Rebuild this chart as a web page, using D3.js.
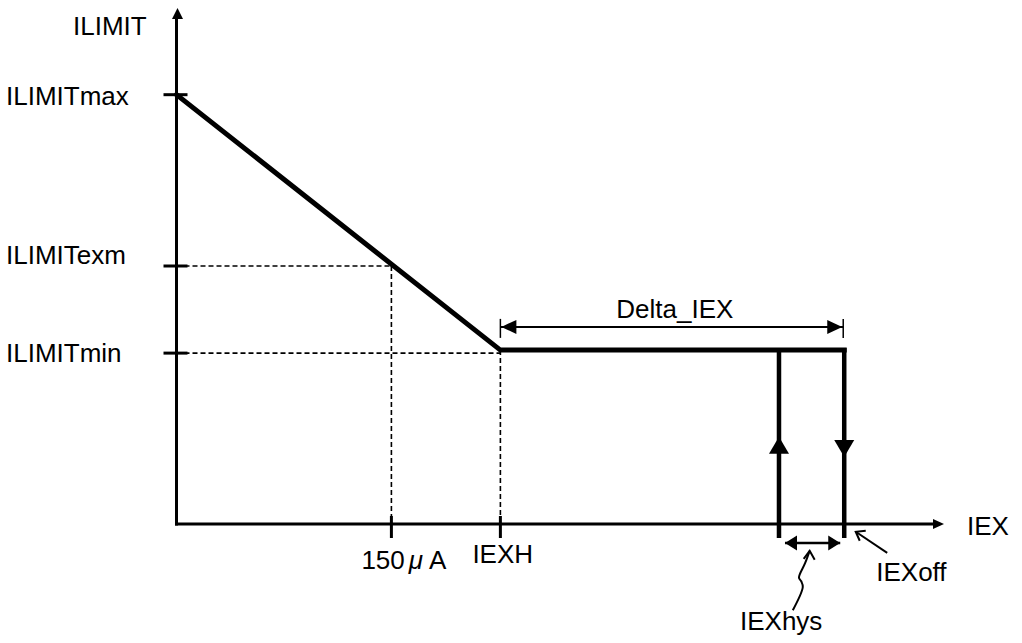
<!DOCTYPE html>
<html>
<head>
<meta charset="utf-8">
<script src="https://cdn.jsdelivr.net/npm/d3@7"></script>
<style>
  body { margin: 0; background: #fff; }
  text { font-family: Arial, "Liberation Sans", sans-serif; font-size: 26px; fill: #000; }
</style>
</head>
<body>
<svg id="chart" width="1022" height="643"></svg>
<script>
// tick labels and their positions (abstract units)
const yLabels = ["ILIMITmax", "ILIMITexm", "ILIMITmin"];
const yValues = [83.2, 50, 33.7];
const xLabels = ["150μA", "IEXH"];
const xValues = [28, 42.2];

// current limit curve
const limitX = [0, 42.2, 87];
const limitY = [83.2, 33.7, 33.7];

// hysteresis thresholds
const hysX = [78.5, 87];        // IEX on, IEXoff
const hysDir = ["up", "down"];
const hysArrowY = [16.9, 13];    // arrow tips

const deltaY = 38.2;  // Delta_IEX dimension level
const hysDimY = -3.7;
const squiggle = [[80.3, -16.7], [81.6, -12.2], [81.4, -11.1], [81.1, -10.4], [81.9, -7.6], [82.5, -5.2]];
const offPointer = [[92.6, -5.6], [88.5, -1.5]];

const svg = d3.select("#chart");
const x = d3.scaleLinear().domain([0, 100]).range([176.5, 944]);
const y = d3.scaleLinear().domain([0, 100]).range([524, 8]);

function tri(px, py, dir, len, half) {
  // filled arrowhead with tip at (px,py)
  if (dir === "up") return `M${px},${py}L${px - half},${py + len}L${px + half},${py + len}Z`;
  if (dir === "down") return `M${px},${py}L${px - half},${py - len}L${px + half},${py - len}Z`;
  if (dir === "left") return `M${px},${py}L${px + len},${py - half}L${px + len},${py + half}Z`;
  return `M${px},${py}L${px - len},${py - half}L${px - len},${py + half}Z`;
}

// axes
svg.append("line")
  .attr("x1", x(0)).attr("x2", x(0))
  .attr("y1", y(0) + 1.5).attr("y2", y(100) + 10)
  .attr("stroke", "#000").attr("stroke-width", 3);
svg.append("path").attr("d", tri(x(0) + 1, y(100), "up", 11, 5.5)).attr("fill", "#000");

svg.append("line")
  .attr("x1", x(0) - 1.5).attr("x2", x(100) - 10)
  .attr("y1", y(0)).attr("y2", y(0))
  .attr("stroke", "#000").attr("stroke-width", 3);
svg.append("path").attr("d", tri(x(100), y(0), "right", 11, 5)).attr("fill", "#000");

svg.append("text").attr("x", 73).attr("y", 35).text("ILIMIT");
svg.append("text").attr("x", x(100) + 23).attr("y", y(0) + 11).text("IEX");

// dashed guides
const guides = [
  [x(0), y(yValues[1]), x(xValues[0]), y(yValues[1])],
  [x(xValues[0]), y(yValues[1]), x(xValues[0]), y(0) - 8],
  [x(0), y(yValues[2]) + 3, x(xValues[1]), y(yValues[2]) + 3],
  [x(xValues[1]), y(yValues[2]), x(xValues[1]), y(0) - 8]
];
svg.selectAll(".guide").data(guides).enter().append("line")
  .attr("class", "guide")
  .attr("x1", d => d[0]).attr("y1", d => d[1])
  .attr("x2", d => d[2]).attr("y2", d => d[3])
  .attr("stroke", "#000").attr("stroke-width", 1.6)
  .attr("stroke-dasharray", "5,3");

// y ticks
svg.selectAll(".ytick").data(yValues).enter().append("line")
  .attr("x1", x(0) - 13).attr("x2", x(0) + 11)
  .attr("y1", (d, i) => y(d) + (i === 2 ? 3 : 0)).attr("y2", (d, i) => y(d) + (i === 2 ? 3 : 0))
  .attr("stroke", "#000").attr("stroke-width", 3);
const yLabelDy = [10, -2, 12];
svg.selectAll(".ylab").data(yLabels).enter().append("text")
  .attr("x", 6)
  .attr("y", (d, i) => y(yValues[i]) + yLabelDy[i])
  .text(d => d);

// x ticks
svg.selectAll(".xtick").data(xValues).enter().append("line")
  .attr("x1", d => x(d)).attr("x2", d => x(d))
  .attr("y1", y(0) - 8).attr("y2", y(0) + 14)
  .attr("stroke", "#000").attr("stroke-width", 3);
const xLabelDx = [-30, -28];
const xLabelDy = [45, 39];
const xl = svg.selectAll(".xlab").data(xLabels).enter().append("text")
  .attr("x", (d, i) => x(xValues[i]) + xLabelDx[i])
  .attr("y", (d, i) => y(0) + xLabelDy[i]);
xl.each(function (d) {
  const t = d3.select(this);
  if (d.includes("μ")) {
    const parts = d.split(/(μ)/);
    t.append("tspan").text(parts[0]);
    t.append("tspan").attr("dx", 4).style("font-style", "italic").text(parts[1]);
    t.append("tspan").attr("dx", 6).text(parts[2]);
  } else {
    t.text(d);
  }
});

// limit curve
const line = d3.line().x(d => x(d[0])).y(d => y(d[1]));
svg.append("path")
  .attr("d", line(limitX.map((v, i) => [v, limitY[i]])))
  .attr("fill", "none").attr("stroke", "#000").attr("stroke-width", 5)
  .attr("stroke-linejoin", "miter").attr("stroke-linecap", "square");

// hysteresis verticals with direction arrows
hysX.forEach((v, i) => {
  svg.append("line")
    .attr("x1", x(v)).attr("x2", x(v))
    .attr("y1", y(limitY[2]) - 2).attr("y2", y(0) + 14)
    .attr("stroke", "#000").attr("stroke-width", 4.5);
  svg.append("path")
    .attr("d", tri(x(v), y(hysArrowY[i]), hysDir[i], 17, 10))
    .attr("fill", "#000");
});

// Delta_IEX dimension
const dL = x(limitX[1]), dR = x(hysX[1]) - 1, dy = y(deltaY);
svg.append("line").attr("x1", dL).attr("x2", dR).attr("y1", dy).attr("y2", dy)
  .attr("stroke", "#000").attr("stroke-width", 2);
[dL, dR].forEach(px => svg.append("line")
  .attr("x1", px).attr("x2", px).attr("y1", dy - 8).attr("y2", dy + 11)
  .attr("stroke", "#000").attr("stroke-width", 1.5));
svg.append("path").attr("d", tri(dL + 1, dy, "left", 15, 7)).attr("fill", "#000");
svg.append("path").attr("d", tri(dR - 1, dy, "right", 15, 7)).attr("fill", "#000");
svg.append("text").attr("x", (dL + dR) / 2 + 3).attr("y", dy - 9)
  .attr("text-anchor", "middle").text("Delta_IEX");

// IEXhys dimension
const hL = x(hysX[0]) + 6, hR = x(hysX[1]) - 4, hy = y(hysDimY);
svg.append("line").attr("x1", hL).attr("x2", hR).attr("y1", hy).attr("y2", hy)
  .attr("stroke", "#000").attr("stroke-width", 2.5);
svg.append("path").attr("d", tri(hL, hy, "left", 12, 7.5)).attr("fill", "#000");
svg.append("path").attr("d", tri(hR, hy, "right", 12, 7.5)).attr("fill", "#000");

// squiggle pointer to IEXhys
svg.append("path")
  .attr("d", d3.line().x(d => x(d[0])).y(d => y(d[1])).curve(d3.curveCatmullRom)(squiggle))
  .attr("fill", "none").attr("stroke", "#000").attr("stroke-width", 2);
const sq = squiggle[squiggle.length - 1];
svg.append("path")
  .attr("d", `M${x(sq[0]) - 6},${y(sq[1]) + 8}L${x(sq[0])},${y(sq[1])}L${x(sq[0]) + 5},${y(sq[1]) + 9}`)
  .attr("fill", "none").attr("stroke", "#000").attr("stroke-width", 2);
svg.append("text").attr("x", x(hysX[0]) - 39).attr("y", y(-20.5)).text("IEXhys");

// IEXoff pointer
const p0 = offPointer[0], p1 = offPointer[1];
svg.append("line")
  .attr("x1", x(p0[0])).attr("y1", y(p0[1]))
  .attr("x2", x(p1[0])).attr("y2", y(p1[1]))
  .attr("stroke", "#000").attr("stroke-width", 2);
svg.append("path")
  .attr("d", `M${x(p1[0]) + 10},${y(p1[1]) - 1}L${x(p1[0])},${y(p1[1])}L${x(p1[0]) + 4},${y(p1[1]) + 9}`)
  .attr("fill", "none").attr("stroke", "#000").attr("stroke-width", 2);
svg.append("text").attr("x", x(hysX[1]) + 32).attr("y", y(-11.1)).text("IEXoff");
</script>
</body>
</html>
